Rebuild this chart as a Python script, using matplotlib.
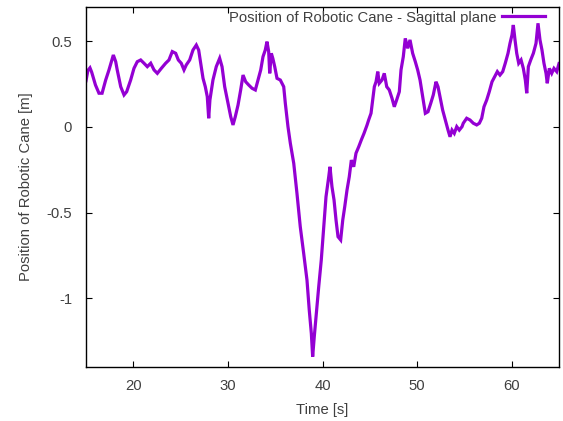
import numpy as np
import matplotlib
matplotlib.use("Agg")
import matplotlib.pyplot as plt

# values
time_s = [15.0, 15.2, 15.42, 15.6, 16.0, 16.37, 16.7, 17.08, 17.43, 17.89, 18.14, 18.3, 18.67,
          19.02, 19.3, 19.72, 20.07, 20.42, 20.78, 21.13, 21.48, 21.84, 22.19, 22.54, 22.96,
          23.42, 23.77, 24.12, 24.48, 24.76, 25.07, 25.36, 25.6, 25.96, 26.31, 26.66, 26.91,
          27.12, 27.37, 27.61, 27.82, 27.97, 28.1, 28.42, 28.77, 29.13, 29.38, 29.66, 30.01,
          30.3, 30.54, 30.78, 31.07, 31.35, 31.6, 31.88, 32.2, 32.55, 32.9, 33.18, 33.47,
          33.71, 33.95, 34.13, 34.31, 34.42, 34.59, 34.75, 34.95, 35.19, 35.54, 35.9, 36.07,
          36.35, 36.6, 36.96, 37.3, 37.65, 38.01, 38.36, 38.6, 38.82, 38.96, 39.13, 39.35,
          39.6, 39.87, 40.13, 40.37, 40.66, 40.79, 41.0, 41.22, 41.43, 41.64, 41.92, 42.14,
          42.35, 42.59, 42.83, 43.05, 43.3, 43.54, 43.83, 44.1, 44.39, 44.7, 44.88, 45.13,
          45.31, 45.48, 45.66, 45.84, 46.0, 46.29, 46.53, 46.79, 47.06, 47.35, 47.59, 47.84,
          48.12, 48.3, 48.54, 48.75, 49.01, 49.25, 49.53, 49.81, 50.06, 50.31, 50.59, 50.87,
          51.15, 51.44, 51.71, 52.0, 52.21, 52.42, 52.7, 52.98, 53.27, 53.48, 53.69, 53.93,
          54.19, 54.46, 54.75, 54.88, 55.24, 55.59, 55.94, 56.3, 56.58, 56.83, 57.07, 57.36,
          57.63, 57.92, 58.2, 58.48, 58.76, 59.05, 59.32, 59.61, 59.82, 60.03, 60.17, 60.35,
          60.53, 60.74, 60.99, 61.23, 61.44, 61.59, 61.76, 62.01, 62.29, 62.57, 62.78, 62.99,
          63.2, 63.41, 63.63, 63.76, 63.98, 64.23, 64.47, 64.76, 65.0]
position_m = [0.27, 0.33, 0.345, 0.32, 0.245, 0.197, 0.197, 0.274, 0.333, 0.42, 0.381, 0.333, 0.235,
              0.187, 0.206, 0.274, 0.342, 0.381, 0.391, 0.372, 0.352, 0.372, 0.333, 0.313, 0.342,
              0.372, 0.391, 0.44, 0.43, 0.391, 0.372, 0.333, 0.362, 0.391, 0.449, 0.478, 0.449,
              0.372, 0.284, 0.235, 0.177, 0.051, 0.158, 0.274, 0.352, 0.401, 0.352, 0.235, 0.138,
              0.06, 0.012, 0.06, 0.128, 0.216, 0.303, 0.264, 0.245, 0.226, 0.216, 0.274, 0.333,
              0.41, 0.449, 0.498, 0.44, 0.313, 0.43, 0.40, 0.352, 0.284, 0.274, 0.235, 0.138,
              0.002, -0.095, -0.212, -0.387, -0.582, -0.737, -0.893, -1.068, -1.204, -1.34, -1.223, -1.087,
              -0.932, -0.776, -0.582, -0.407, -0.29, -0.232, -0.348, -0.426, -0.543, -0.64, -0.659, -0.543,
              -0.465, -0.368, -0.29, -0.193, -0.232, -0.153, -0.115, -0.076, -0.037, 0.01, 0.041, 0.08,
              0.158, 0.235, 0.264, 0.323, 0.255, 0.274, 0.313, 0.235, 0.216, 0.167, 0.118, 0.158,
              0.206, 0.333, 0.41, 0.517, 0.459, 0.508, 0.43, 0.381, 0.333, 0.274, 0.177, 0.08,
              0.089, 0.138, 0.187, 0.264, 0.235, 0.177, 0.099, 0.041, -0.018, -0.057, -0.018, -0.037,
              0.002, -0.018, 0.002, 0.022, 0.051, 0.041, 0.022, 0.012, 0.022, 0.051, 0.118, 0.158,
              0.206, 0.264, 0.294, 0.323, 0.303, 0.323, 0.372, 0.43, 0.488, 0.537, 0.595, 0.508,
              0.43, 0.372, 0.391, 0.342, 0.274, 0.197, 0.352, 0.391, 0.43, 0.488, 0.605, 0.508,
              0.449, 0.372, 0.313, 0.255, 0.342, 0.313, 0.342, 0.323, 0.37]
x_ticks = [20, 30, 40, 50, 60]
y_ticks = [-1, -0.5, 0, 0.5]
y_tick_labels = ["-1", "-0.5", "0", "0.5"]

plt.rcParams["font.family"] = ["Liberation Sans", "DejaVu Sans"]
text_col = "#404040"
fs = 10.7

fig = plt.figure(figsize=(5.63, 4.21), dpi=100)
ax = fig.add_axes([86 / 563, 1 - 367 / 421, 473 / 563, 360 / 421])

ax.plot(time_s, position_m, color="#9400d3", linewidth=2.3, solid_joinstyle="miter",
        label="Position of Robotic Cane - Sagittal plane")

ax.set_xlim(15, 65)
ax.set_ylim(-1.4, 0.7)
ax.set_xticks(x_ticks)
ax.set_yticks(y_ticks)
ax.set_yticklabels(y_tick_labels)
ax.tick_params(direction="in", length=4, width=0.8, top=True, right=True,
               labelsize=fs, labelcolor=text_col)
ax.tick_params(axis="x", pad=9)
ax.tick_params(axis="y", pad=10)
for s in ax.spines.values():
    s.set_linewidth(1.0)

ax.set_xlabel("Time [s]", fontsize=fs, color=text_col, labelpad=7)
ax.set_ylabel("Position of Robotic Cane [m]", fontsize=fs, color=text_col, labelpad=10)

ax.legend(loc="upper right", bbox_to_anchor=(0.971, 0.99), frameon=False, markerfirst=False,
          fontsize=fs, handlelength=2.9, handletextpad=0.4, borderpad=0, borderaxespad=0,
          labelcolor=text_col)

fig.savefig("out.png", dpi=100)
